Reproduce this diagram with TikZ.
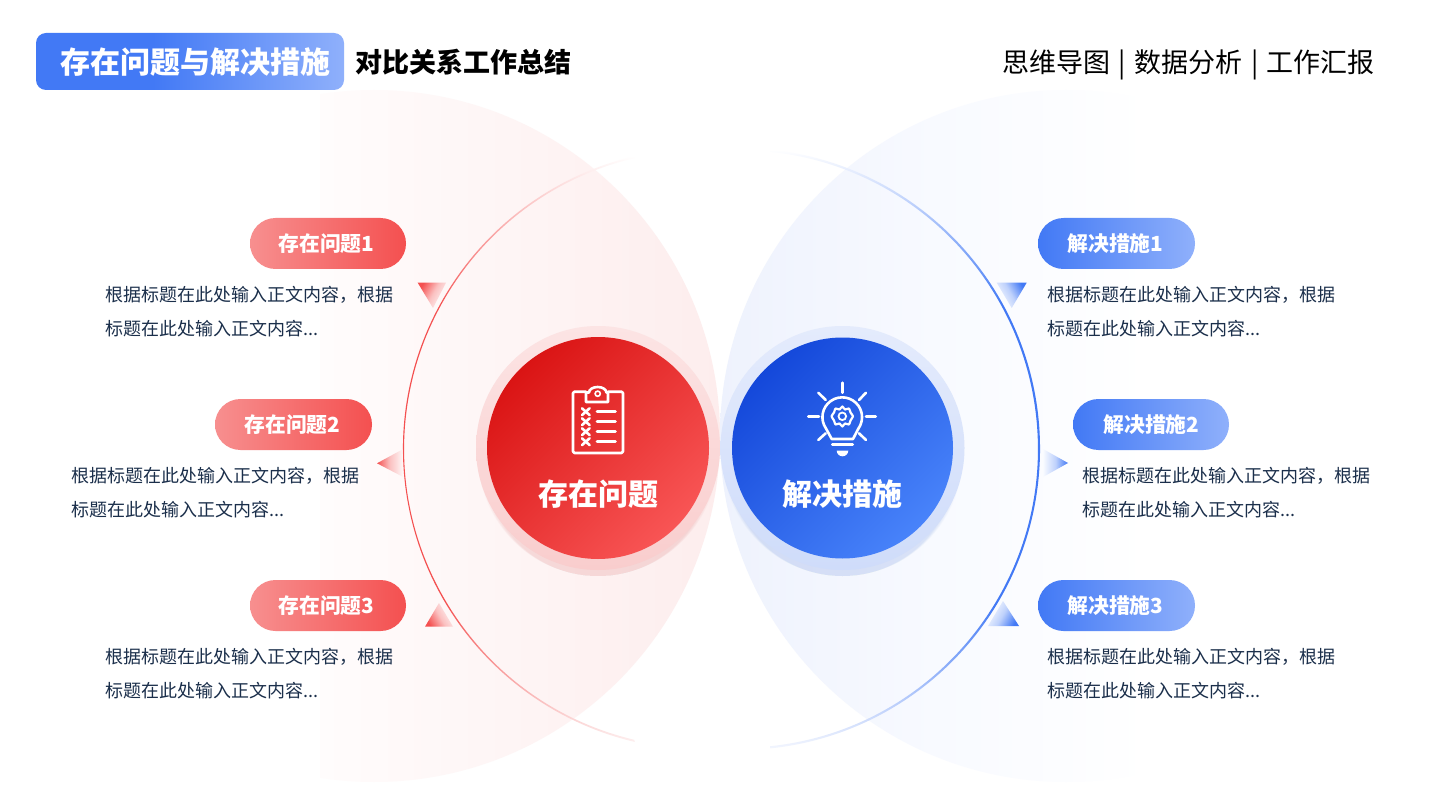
\documentclass[tikz,border=0pt]{standalone}
\usepackage{fontspec}
\setmainfont{Noto Sans CJK SC}
\definecolor{rdark}{HTML}{F45050}
\definecolor{rlight}{HTML}{F78F8F}
\definecolor{bdark}{HTML}{4279F5}
\definecolor{blight}{HTML}{8FB0FB}
\definecolor{inktext}{HTML}{1B2F4B}
\definecolor{rfade}{HTML}{FDEFEF}
\definecolor{bfade}{HTML}{F3F6FE}
\definecolor{rtri}{HTML}{FEF6F6}
\definecolor{btri}{HTML}{F9FBFF}
\definecolor{discR}{HTML}{FDEDED}
\definecolor{discRa}{HTML}{FFFCFC}
\definecolor{discB}{HTML}{EEF2FD}
\definecolor{discBm}{HTML}{F8FAFF}
\definecolor{cRa}{HTML}{DA1414}
\definecolor{cRb}{HTML}{F85555}
\definecolor{cBa}{HTML}{1448DA}
\definecolor{cBb}{HTML}{4883FA}
\definecolor{haloRa}{HTML}{FCE4E4}
\definecolor{haloRb}{HTML}{F9CDCD}
\definecolor{haloBa}{HTML}{E4EBFC}
\definecolor{haloBb}{HTML}{CFDCFA}
\pgfdeclarehorizontalshading{hdrshade}{100bp}{color(0bp)=(bdark);color(25bp)=(bdark);color(44bp)=(bdark);color(75bp)=(blight);color(100bp)=(blight)}
\pgfdeclarehorizontalshading{discblue}{100bp}{color(0bp)=(discB);color(25bp)=(discB);color(50bp)=(discBm);color(75bp)=(white);color(100bp)=(white)}
\pgfdeclareverticalshading{arcred}{100bp}{color(0bp)=(rfade);color(25bp)=(rfade);color(37bp)=(rdark);color(62bp)=(rdark);color(75bp)=(white);color(100bp)=(white)}
\pgfdeclareverticalshading{arcblue}{100bp}{color(0bp)=(bfade);color(25bp)=(bfade);color(37bp)=(bdark);color(62bp)=(bdark);color(75bp)=(white);color(100bp)=(white)}
\tikzset{
  x=1pt,y=-1pt,
  pillred/.style={left color=rlight,right color=rdark,rounded corners=25.5pt},
  pillblue/.style={left color=bdark,right color=blight,rounded corners=25.5pt},
  pilltext/.style={font=\bfseries\fontsize{20.8}{24}\selectfont,text=white,inner sep=0pt,anchor=center},
  bodytext/.style={font=\fontsize{18}{34}\selectfont,text=inktext,inner sep=0pt,anchor=west},
  iconline/.style={draw=white,line width=2.6pt,line cap=round,line join=round},
  bigtext/.style={font=\bfseries\fontsize{30}{36}\selectfont,text=white,inner sep=0pt,anchor=center},
  tricolr/.style={left color=rdark,right color=rtri,middle color=rdark!32!rtri},
  tricolb/.style={left color=bdark,right color=btri,middle color=bdark!32!btri},
}
\begin{document}
\begin{tikzpicture}
\useasboundingbox (0,0) rectangle (1440,810);
\fill[white] (0,0) rectangle (1440,810);
% big discs
\begin{scope}
  \clip (374,436) circle (346);
  \shade[left color=discRa,right color=discR] (320,80) rectangle (722,790);
\end{scope}
\begin{scope}
  \clip (1066,436) circle (346);
  \shade[shading=discblue] (718,80) rectangle (1150,790);
\end{scope}
% thin arcs
\shade[shading=arcred] (704,449) ++(256.7:301) arc[start angle=256.7,end angle=103.3,radius=301] -- ++(-0.5,-2.1) arc[start angle=103.3,end angle=256.7,radius=298.9] -- cycle;
\shade[shading=arcblue] (739,449) ++(-84:301) arc[start angle=-84,end angle=84,radius=301] -- ++(-0.2,-2.1) arc[start angle=84,end angle=-84,radius=298.9] -- cycle;
% triangles
\shade[tricolr,shading angle=60] (417.7,282.7) -- (446,282.7) -- (433,308) -- cycle;
\shade[tricolr,shading angle=90] (377,463.3) -- (402.7,449.3) -- (402.7,476.7) -- cycle;
\shade[tricolr,shading angle=120] (425,626.7) -- (439,603) -- (453,626.7) -- cycle;
\shade[tricolb,shading angle=-60] (996.7,282.7) -- (1026.7,282.7) -- (1011.7,308) -- cycle;
\shade[tricolb,shading angle=-90] (1068,463) -- (1043,449) -- (1043,477) -- cycle;
\shade[tricolb,shading angle=-120] (1019,626) -- (1003,601) -- (988,626) -- cycle;
% halos and glows
\foreach \k in {0,...,7}{
  \fill[rdark,opacity=0.02] (598,{456+\k}) circle ({120-\k});
  \fill[bdark,opacity=0.02] (842.5,{456+\k}) circle ({120-\k});
}
\shade[top color=haloRa,bottom color=haloRb] (598,448) circle (122);
\shade[top color=haloBa,bottom color=haloBb] (842.5,448) circle (122);
\shade[left color=cRa,right color=cRb,shading angle=45] (598,448) circle (111);
\shade[left color=cBa,right color=cBb,shading angle=45] (842.5,448) circle (110.5);
% clipboard icon
\draw[iconline] (586,391.7) -- (574.5,391.7) -- (573,393) -- (573,451.5) -- (574.5,453) -- (621.5,453) -- (623,451.5) -- (623,393) -- (621.5,391.7) -- (608,391.7);
\draw[iconline] (586,402) -- (586,392.5) -- (589,392.5) arc[start angle=180,end angle=360,x radius=8.7,y radius=5.5] -- (608,392.5) -- (608,402) -- cycle;
\draw[draw=white,line width=1.6pt] (597.7,393.7) circle (2.6);
\foreach \yy in {411.7,421.7,431.7,441.7}{
  \draw[iconline] (582,\yy-3.4) -- (589.6,\yy+3.4);
  \draw[iconline] (589.6,\yy-3.4) -- (582,\yy+3.4);
  \draw[iconline] (597,\yy) -- (615.5,\yy);
}
% bulb icon
\draw[iconline] (831.7,439) -- (826,428.5) arc[start angle=145,end angle=395,radius=19.8] -- (853,439) -- cycle;
\draw[iconline] (832.3,444.3) -- (852.7,444.3);
\fill[white] (836.7,450.5) -- (848.3,450.5) arc[start angle=0,end angle=180,radius=5.8] -- cycle;
\draw[iconline] (842.3,382.7) -- (842.3,392.7);
\draw[iconline] (808.3,416.7) -- (819,416.7);
\draw[iconline] (866,416.7) -- (875.7,416.7);
\draw[iconline] (818.3,392.7) -- (825.7,400);
\draw[iconline] (866,392.7) -- (859,400);
\draw[iconline] (818.3,440) -- (825.7,433.3);
\draw[iconline] (866,440) -- (859,433.3);
\draw[draw=white,line width=2.2pt,line join=round] plot[smooth cycle,tension=0.3] coordinates {
  (842.3,406.5) (845,409.5) (849,408.5) (850.5,412.5) (853,416.3) (850.5,420.5) (849,424.5) (845,423.5) (842.3,426.5) (839.5,423.5) (835.5,424.5) (834,420.5) (831.5,416.3) (834,412.5) (835.5,408.5) (839.5,409.5)};
\draw[draw=white,line width=1.8pt] (842.3,416.3) circle (3.8);
% centre labels
\node[bigtext] (cL) at (598,494) {存在问题};
\node[bigtext] (cR) at (842.5,494) {解决措施};
% header
\shade[shading=hdrshade,rounded corners=10pt] (36,33) rectangle (344,90);
\node[font=\bfseries\fontsize{30}{36}\selectfont,text=white,inner sep=0pt] (hA) at (195,62) {存在问题与解决措施};
\node[font=\bfseries\fontsize{27}{32}\selectfont,text=black,inner sep=0pt] (hB) at (463,62) {对比关系工作总结};
\node[font=\fontsize{27}{32}\selectfont,text=black,inner sep=0pt] (hC) at (1188.5,65) {思维导图\hspace{2.5pt} | \hspace{2.5pt}数据分析\hspace{2.5pt} | \hspace{2.5pt}工作汇报};
% pills
\shade[pillred] (250,218) rectangle (406,269);
\node[pilltext] (p1) at (326.5,244) {存在问题1};
\shade[pillred] (215,399) rectangle (372,450);
\node[pilltext] (p2) at (292.5,425) {存在问题2};
\shade[pillred] (250,580) rectangle (406,631);
\node[pilltext] (p3) at (326.5,606) {存在问题3};
\shade[pillblue] (1038,218) rectangle (1195,269);
\node[pilltext] (s1) at (1115.5,244) {解决措施1};
\shade[pillblue] (1073,399) rectangle (1229,450);
\node[pilltext] (s2) at (1151.5,425) {解决措施2};
\shade[pillblue] (1038,580) rectangle (1195,631);
\node[pilltext] (s3) at (1115.5,606) {解决措施3};
% body text
\foreach \nm/\xx/\yy in {a/105/295,b/71/476,c/105/657,d/1047/295,e/1082/476,f/1047/657}{
  \node[bodytext] (t\nm1) at (\xx,\yy) {根据标题在此处输入正文内容，根据};
  \node[bodytext] (t\nm2) at (\xx,\yy+34) {标题在此处输入正文内容...};
}
\end{tikzpicture}
\end{document}
